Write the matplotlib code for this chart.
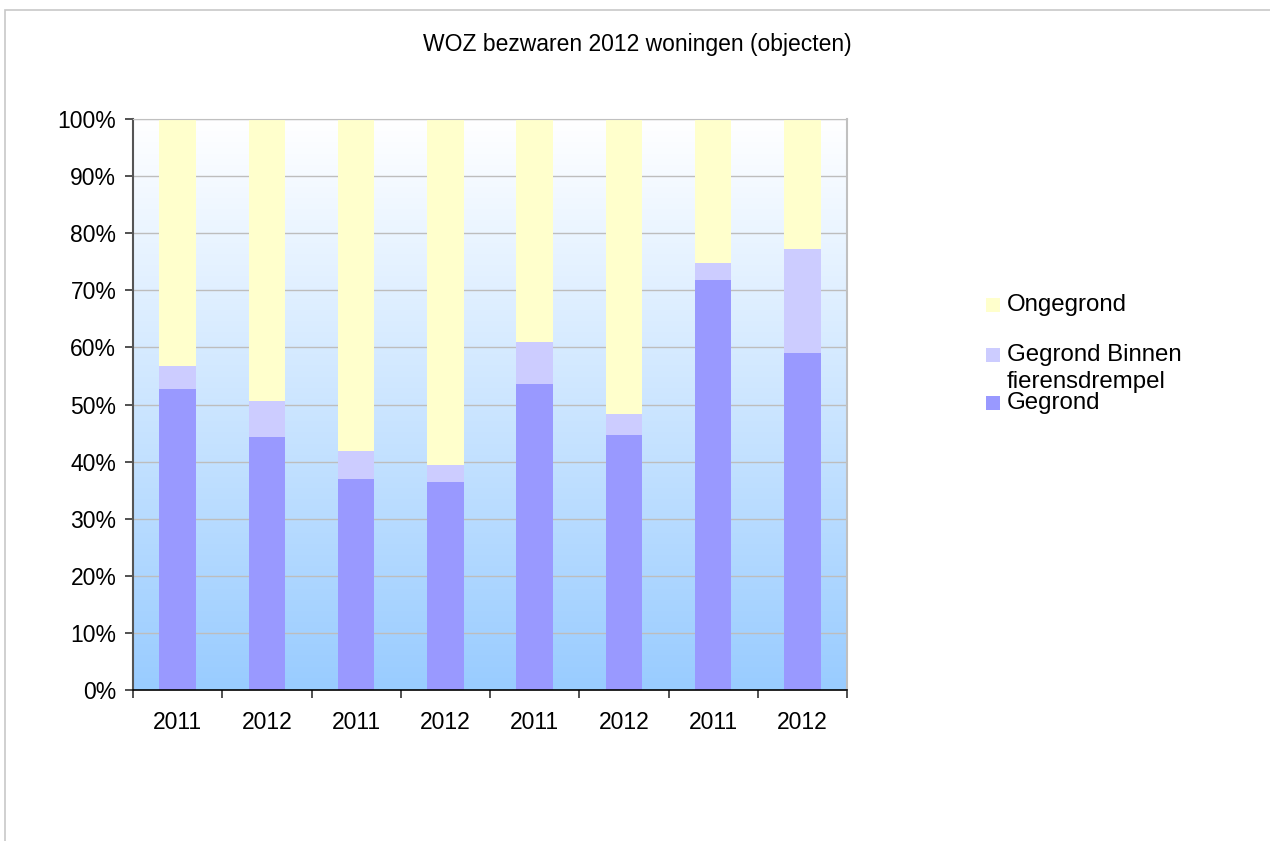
import matplotlib
matplotlib.use("Agg")
import matplotlib.pyplot as plt
import numpy as np
from matplotlib.patches import Rectangle

plt.rcParams['font.family'] = ['Liberation Sans', 'DejaVu Sans']

categories = ["2011", "2012", "2011", "2012", "2011", "2012", "2011", "2012"]
gegrond = [52.7, 44.3, 37.0, 36.4, 53.6, 44.7, 71.8, 59.0]
gegrond_binnen = [4.0, 6.3, 4.9, 3.0, 7.3, 3.6, 3.0, 18.2]
ongegrond = [round(100 - a - b, 1) for a, b in zip(gegrond, gegrond_binnen)]
series_names = ["Gegrond", "Gegrond Binnen\nfierensdrempel", "Ongegrond"]
colors = ["#9999ff", "#ccccff", "#ffffcc"]
title = "WOZ bezwaren 2012 woningen (objecten)"

fig = plt.figure(figsize=(12.7, 8.41), dpi=100)
fig.patches.append(Rectangle((5/1270, -0.1), 1.1, 1 - 10/841 + 0.1, transform=fig.transFigure,
                             fill=False, edgecolor="#c8c8c8", linewidth=1.2))

ax = fig.add_axes([133/1270, 1 - 690/841, (847-133)/1270, (690-119)/841])
x = np.arange(len(categories))
ax.set_xlim(-0.5, len(categories) - 0.5)
ax.set_ylim(0, 100)

# gradient background
grad = np.linspace(0, 1, 256).reshape(-1, 1)
top = np.array([1.0, 1.0, 1.0])
bot = np.array([0x99, 0xcc, 0xff]) / 255
img = bot[None, None, :] * (1 - grad[:, :, None]) + top[None, None, :] * grad[:, :, None]
ax.imshow(img, extent=[-0.5, len(categories) - 0.5, 0, 100], origin="lower",
          aspect="auto", zorder=0)

for yv in range(10, 101, 10):
    ax.axhline(yv, color="#bdbdbd", linewidth=1.0, zorder=1)

w = 0.41
bottom = np.zeros(len(categories))
for vals, c in zip([gegrond, gegrond_binnen, ongegrond], colors):
    ax.bar(x, vals, w, bottom=bottom, color=c, zorder=2, linewidth=0)
    bottom += np.array(vals)

ax.set_yticks(range(0, 101, 10))
ax.set_yticklabels([f"{v}%" for v in range(0, 101, 10)], fontsize=16.5)
ax.set_xticks(x)
ax.set_xticklabels(categories, fontsize=16.5)
ax.set_xticks(np.arange(-0.5, len(categories)), minor=True)
ax.tick_params(axis="x", which="major", length=0, pad=15)
ax.tick_params(axis="x", which="minor", length=6, color="#333333", width=1.2)
ax.tick_params(axis="y", length=6, color="#333333", width=1.2, pad=6)

ax.spines["left"].set_color("#555555")
ax.spines["left"].set_linewidth(1.5)
ax.spines["bottom"].set_color("#000000")
ax.spines["bottom"].set_linewidth(1.2)
ax.spines["top"].set_color("#c0c0c0")
ax.spines["right"].set_color("#c0c0c0")
ax.spines["right"].set_linewidth(1.5)

fig.text(637/1270, 1 - 45/841, title, ha="center", va="center", fontsize=16.5)

# legend
sq = 14
legend_items = [(ongegrond, "Ongegrond", colors[2], 305),
                (gegrond_binnen, "Gegrond Binnen", colors[1], 355),
                (gegrond, "Gegrond", colors[0], 403)]
for _, lab, c, yc in legend_items:
    fig.patches.append(Rectangle(((986)/1270, 1 - (yc + 7)/841), sq/1270, sq/841,
                                 transform=fig.transFigure, facecolor=c, edgecolor="none"))
    fig.text(1007/1270, 1 - yc/841, lab, ha="left", va="center", fontsize=17.3)
fig.text(1007/1270, 1 - 382/841, "fierensdrempel", ha="left", va="center", fontsize=17.3)

fig.savefig("out.png", dpi=100)
